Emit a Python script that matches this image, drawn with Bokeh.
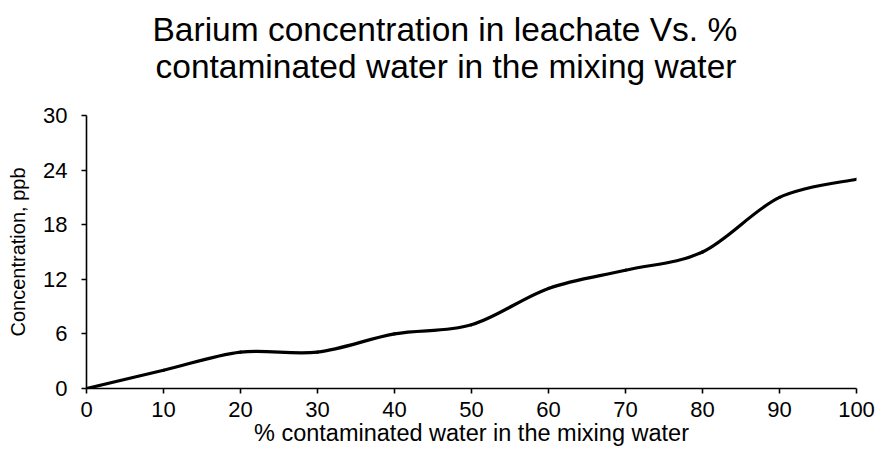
from bokeh.plotting import figure
from bokeh.models import Range1d, FixedTicker, Title
from bokeh.embed import file_html
from bokeh.resources import INLINE

# Data
pct_contaminated = [0, 10, 20, 30, 40, 50, 60, 70, 80, 90, 100]
concentration = [0, 2, 4, 4, 6, 7, 11, 13, 15, 21, 23]
x_ticks = [0, 10, 20, 30, 40, 50, 60, 70, 80, 90, 100]
y_ticks = [0, 6, 12, 18, 24, 30]

title_line1 = "Barium concentration in leachate Vs. %"
title_line2 = "contaminated water in the mixing water"
x_label = "% contaminated water in the mixing water"
y_label = "Concentration, ppb"

FONT = "Liberation Sans"

p = figure(width=875, height=448, output_backend="svg", toolbar_location=None,
           x_range=Range1d(0, 100), y_range=Range1d(0, 30),
           min_border_left=86, min_border_right=19, min_border_bottom=56,
           min_border_top=115)
p.outline_line_color = None
p.xgrid.grid_line_color = None
p.ygrid.grid_line_color = None
p.background_fill_color = "white"
p.border_fill_color = "white"

# Two-line title (first added sits next to the plot frame)
t2 = Title(text=title_line2, align="left", text_font=FONT, text_font_size="33.5px",
           text_font_style="normal", text_color="black", offset=69, standoff=62)
t1 = Title(text=title_line1, align="left", text_font=FONT, text_font_size="33.5px",
           text_font_style="normal", text_color="black", offset=66, standoff=-66)
p.add_layout(t2, "above")
p.add_layout(t1, "above")

# Smoothed line via cubic Bezier segments derived from the data points
n = len(pct_contaminated)
x0s, y0s, x1s, y1s, cx0s, cy0s, cx1s, cy1s = [], [], [], [], [], [], [], []
for i in range(n - 1):
    xa, ya = pct_contaminated[i], concentration[i]
    xb, yb = pct_contaminated[i + 1], concentration[i + 1]
    xp, yp = pct_contaminated[max(i - 1, 0)], concentration[max(i - 1, 0)]
    xn, yn = pct_contaminated[min(i + 2, n - 1)], concentration[min(i + 2, n - 1)]
    x0s.append(xa); y0s.append(ya); x1s.append(xb); y1s.append(yb)
    cx0s.append(xa + (xb - xp) / 6.0); cy0s.append(ya + (yb - yp) / 6.0)
    cx1s.append(xb - (xn - xa) / 6.0); cy1s.append(yb - (yn - ya) / 6.0)

p.bezier(x0=x0s, y0=y0s, x1=x1s, y1=y1s, cx0=cx0s, cy0=cy0s, cx1=cx1s, cy1=cy1s,
         line_color="black", line_width=3.2, line_cap="round")

# Axes
for ax in (p.xaxis[0], p.yaxis[0]):
    ax.axis_line_color = "black"
    ax.axis_line_width = 1.6
    ax.major_tick_line_color = "black"
    ax.major_tick_line_width = 1.6
    ax.major_tick_in = 0
    ax.major_tick_out = 5
    ax.minor_tick_line_color = None
    ax.major_label_text_font = FONT
    ax.major_label_text_font_size = "22px"
    ax.major_label_text_color = "black"
    ax.axis_label_text_font = FONT
    ax.axis_label_text_font_style = "normal"
    ax.axis_label_text_color = "black"

p.xaxis.axis_label_text_font_size = "23.5px"
p.yaxis.axis_label_text_font_size = "20px"
p.xaxis.ticker = FixedTicker(ticks=x_ticks)
p.yaxis.ticker = FixedTicker(ticks=y_ticks)
p.xaxis.axis_label = x_label
p.yaxis.axis_label = y_label
p.xaxis.major_label_standoff = 8
p.yaxis.major_label_standoff = 14
p.xaxis.axis_label_standoff = 0
p.yaxis.axis_label_standoff = 11

open("out.html", "w").write(file_html(p, INLINE))
